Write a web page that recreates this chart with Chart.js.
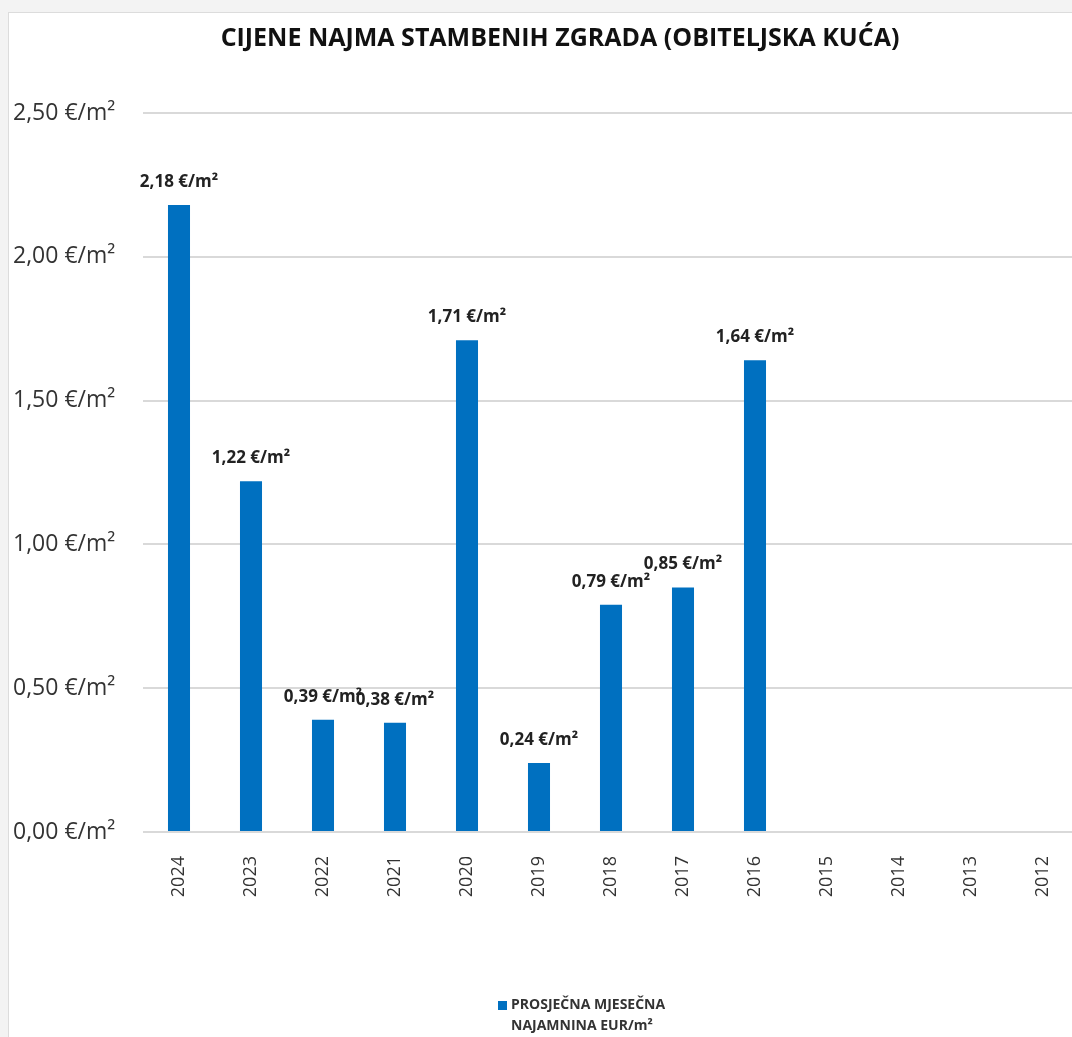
<!DOCTYPE html>
<html>
<head>
<meta charset="utf-8">
<script src="https://cdn.jsdelivr.net/npm/chart.js@4.4.1/dist/chart.umd.min.js"></script>
<style>
  html, body { margin: 0; padding: 0; overflow: hidden; background: #f3f3f3; }
  #okvir {
    position: absolute; left: 8px; top: 12px; width: 1110px; height: 1030px;
    background: #fff; border-top: 1px solid #dcdcdc; border-left: 1px solid #dcdcdc;
  }
  canvas { display: block; }
</style>
</head>
<body>
<div id="okvir"><canvas id="grafikon" width="1104" height="1024"></canvas></div>
<script>
// Podaci: prosječna mjesečna najamnina (obiteljska kuća), EUR/m²
const godine = ['2024', '2023', '2022', '2021', '2020', '2019', '2018', '2017', '2016', '2015', '2014', '2013', '2012'];
const najamnina = [2.18, 1.22, 0.39, 0.38, 1.71, 0.24, 0.79, 0.85, 1.64, null, null, null, null];
const yOznake = [0, 0.5, 1, 1.5, 2, 2.5];
const naslov = 'CIJENE NAJMA STAMBENIH ZGRADA (OBITELJSKA KUĆA)';

const FONT = "'Open Sans', 'Noto Sans', sans-serif";
const PLAVA = '#0070c0';

const formatEur = v => v.toFixed(2).replace('.', ',') + ' €/m²';

// oznake vrijednosti iznad stupaca
const oznakePlugin = {
  id: 'oznake',
  afterDatasetsDraw(chart) {
    const ctx = chart.ctx;
    const meta = chart.getDatasetMeta(0);
    ctx.save();
    ctx.font = 'bold 17px ' + FONT;
    ctx.fillStyle = '#222';
    ctx.textAlign = 'center';
    ctx.textBaseline = 'middle';
    meta.data.forEach((bar, i) => {
      const v = najamnina[i];
      if (v == null) return;
      ctx.fillText(formatEur(v), bar.x, bar.y - 23);
    });
    ctx.restore();
  }
};

// naslov i legenda (legenda u dva retka, kao u izvorniku)
const okvirPlugin = {
  id: 'okvirTekst',
  afterDraw(chart) {
    const ctx = chart.ctx;
    ctx.save();
    ctx.font = 'bold 25px ' + FONT;
    ctx.fillStyle = '#111';
    ctx.textAlign = 'center';
    ctx.textBaseline = 'middle';
    ctx.fillText(naslov, 551, 26);

    ctx.fillStyle = PLAVA;
    ctx.fillRect(489, 988, 9, 9);
    ctx.font = 'bold 14px ' + FONT;
    ctx.fillStyle = '#333';
    ctx.textAlign = 'left';
    ctx.fillText('PROSJEČNA MJESEČNA', 502, 992);
    ctx.fillText('NAJAMNINA EUR/m²', 502, 1013);
    ctx.restore();
  }
};

new Chart(document.getElementById('grafikon').getContext('2d'), {
  type: 'bar',
  data: {
    labels: godine,
    datasets: [{
      label: 'PROSJEČNA MJESEČNA NAJAMNINA EUR/m²',
      data: najamnina,
      backgroundColor: PLAVA,
      borderWidth: 0,
      barPercentage: 0.306,
      categoryPercentage: 1
    }]
  },
  options: {
    responsive: false,
    animation: false,
    layout: { padding: { left: 4, right: 34, top: 100, bottom: 105 } },
    plugins: {
      legend: { display: false },
      tooltip: { enabled: false },
      title: { display: false }
    },
    scales: {
      x: {
        grid: { display: false },
        border: { display: false },
        ticks: {
          autoSkip: false,
          minRotation: 90,
          maxRotation: 90,
          padding: 16,
          color: '#333',
          font: { family: FONT, size: 18 }
        },
        afterFit(scale) { scale.height = 100; }
      },
      y: {
        min: 0,
        max: 2.5,
        afterBuildTicks(scale) { scale.ticks = yOznake.map(v => ({ value: v })); },
        grid: { color: '#d9d9d9', lineWidth: 2, drawTicks: false },
        border: { display: false },
        ticks: {
          crossAlign: 'far',
          color: '#333',
          font: { family: FONT, size: 23 },
          callback: v => formatEur(v)
        },
        afterFit(scale) { scale.width = 130; }
      }
    }
  },
  plugins: [oznakePlugin, okvirPlugin]
});
</script>
</body>
</html>
